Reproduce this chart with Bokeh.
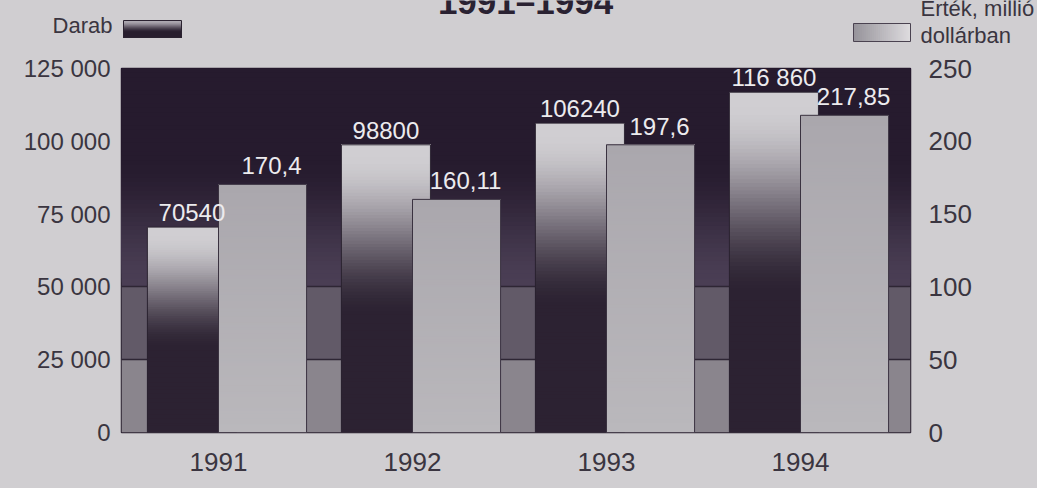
from bokeh.plotting import figure
from bokeh.layouts import column
from bokeh.models import Range1d, LinearAxis, FixedTicker
from bokeh.core.properties import value
from bokeh.embed import file_html
from bokeh.resources import INLINE

# ---------------- data ----------------
years = ["1991", "1992", "1993", "1994"]
darab = [70540, 98800, 106240, 116860]
ertek = [170.4, 160.11, 197.6, 217.85]
darab_labels = ["70540", "98800", "106240", "116 860"]
ertek_labels = ["170,4", "160,11", "197,6", "217,85"]
left_ticks = [0, 25000, 50000, 75000, 100000, 125000]
left_tick_labels = ["0", "25 000", "50 000", "75 000", "100 000", "125 000"]
right_ticks = [0, 50, 100, 150, 200, 250]
title_text = "1991\u20131994"
legend_left = "Darab"
legend_right = ["\u00c9rt\u00e9k, milli\u00f3", "doll\u00e1rban"]

# ---------------- style ----------------
W, H = 1037, 488
TOP_H = 54
MAIN_H = H - TOP_H
FL, FR, FT, FB = 121, 127, 14, 56
X_END = 4.067
DARK_OFF, DARK_W = 0.363, 0.459
LIGHT_OFF, LIGHT_W = 0.727, 0.454
TICK_OFF = 0.5
PAGE_BG = "#d0ced1"
TXT = "#3a3540"
FONT = "Liberation Sans"
N = 90
BASE_SHIFT = 0.4  # alphabetic anchor sits ~0.4em above the drawn baseline


def mix(c1, c2, t):
    t = max(0.0, min(1.0, t))
    return "#%02x%02x%02x" % tuple(int(round(a + (b - a) * t)) for a, b in zip(c1, c2))


def smooth(t):
    t = max(0.0, min(1.0, t))
    return t * t * (3 - 2 * t)


DARK_BOT = (44, 34, 50)
DARK_TOP = (208, 206, 210)


def dark_ramp(f):
    return mix(DARK_BOT, DARK_TOP, smooth((f - 0.40) / (0.97 - 0.40)))


LIGHT_BOT = (186, 184, 188)
LIGHT_TOP = (170, 167, 173)


def light_ramp(f):
    return mix(LIGHT_BOT, LIGHT_TOP, f)


BG_LOW = (74, 62, 84)
BG_HIGH = (38, 27, 46)

# ======================= main chart =======================
p = figure(width=W, height=MAIN_H, output_backend="svg", toolbar_location=None,
           x_range=Range1d(0, X_END), y_range=Range1d(left_ticks[0], left_ticks[-1]),
           min_border_left=FL, min_border_right=FR, min_border_top=FT, min_border_bottom=FB)
p.frame_align = False
p.extra_y_ranges = {"right": Range1d(right_ticks[0], right_ticks[-1])}
p.background_fill_color = PAGE_BG
p.border_fill_color = PAGE_BG
p.outline_line_color = "#2a2230"
p.outline_line_width = 1.5
p.grid.visible = False

# background bands
p.quad(left=[0, 0], right=[X_END, X_END],
       bottom=[left_ticks[0], left_ticks[1]], top=[left_ticks[1], left_ticks[2]],
       fill_color=["#8a858d", "#625a68"], line_color=None)
NB = 50
bg_b, bg_c = [], []
span = left_ticks[-1] - left_ticks[2]
for k in range(NB):
    bg_b.append(left_ticks[2] + span * k / NB)
    bg_c.append(mix(BG_LOW, BG_HIGH, smooth(((k + 0.5) / NB) / 0.6)))
p.quad(left=[0] * NB, right=[X_END] * NB, bottom=bg_b, top=[left_ticks[-1]] * NB,
       fill_color=bg_c, line_color=None)
p.hspan(y=left_ticks[1:3], line_color="#2e2634", line_width=1.5)

# bars (gradient by overlapping stacked slices)
xs_d, bot_d, top_d, col_d = [], [], [], []
xs_l, bot_l, top_l, col_l = [], [], [], []
for i, (v, w) in enumerate(zip(darab, ertek)):
    for k in range(N):
        xs_d.append(i + DARK_OFF); bot_d.append(v * k / N); top_d.append(v)
        col_d.append(dark_ramp((k + 0.5) / N))
        xs_l.append(i + LIGHT_OFF); bot_l.append(w * k / N); top_l.append(w)
        col_l.append(light_ramp((k + 0.5) / N))

xi = list(range(len(years)))
p.vbar(x=xs_d, width=DARK_W, bottom=bot_d, top=top_d, fill_color=col_d, line_color=None)
p.vbar(x=[i + DARK_OFF for i in xi], width=DARK_W, bottom=0, top=darab,
       fill_color=None, line_color="#2a2230", line_width=1)
p.vbar(x=xs_l, width=LIGHT_W, bottom=bot_l, top=top_l, fill_color=col_l, line_color=None,
       y_range_name="right")
p.vbar(x=[i + LIGHT_OFF for i in xi], width=LIGHT_W, bottom=0, top=ertek,
       fill_color=None, line_color="#3a3240", line_width=1, y_range_name="right")

# value labels
VAL_FS = 24
p.text(x=[i + DARK_OFF for i in xi], y=darab, text=darab_labels,
       y_offset=-(5 + BASE_SHIFT * VAL_FS),
       text_align="center", text_baseline="alphabetic", text_color="#ecebee",
       text_font=value(FONT), text_font_size="%dpx" % VAL_FS)
p.text(x=[i + LIGHT_OFF for i in xi], y=ertek, text=ertek_labels,
       y_offset=-(9 + BASE_SHIFT * VAL_FS), x_offset=9,
       text_align="center", text_baseline="alphabetic", text_color="#ecebee",
       text_font=value(FONT), text_font_size="%dpx" % VAL_FS, y_range_name="right")


def style_axis(ax, size, standoff):
    ax.axis_line_color = None
    ax.major_tick_line_color = None
    ax.minor_tick_line_color = None
    ax.major_tick_out = 0
    ax.major_tick_in = 0
    ax.minor_tick_out = 0
    ax.minor_tick_in = 0
    ax.major_label_text_font = FONT
    ax.major_label_text_font_size = size
    ax.major_label_text_color = TXT
    ax.major_label_standoff = standoff


style_axis(p.yaxis[0], "24px", 11)
p.yaxis[0].ticker = FixedTicker(ticks=left_ticks)
p.yaxis[0].major_label_overrides = {t: s for t, s in zip(left_ticks, left_tick_labels)}

style_axis(p.xaxis[0], "26px", 20)
p.xaxis[0].ticker = FixedTicker(ticks=[i + TICK_OFF for i in xi])
p.xaxis[0].major_label_overrides = {i + TICK_OFF: y for i, y in zip(xi, years)}

ry = LinearAxis(y_range_name="right", ticker=FixedTicker(ticks=right_ticks))
style_axis(ry, "26px", 18)
p.add_layout(ry, "right")

# ======================= header strip (title + legend) =======================
t = figure(width=W, height=TOP_H, output_backend="svg", toolbar_location=None,
           x_range=Range1d(0, W), y_range=Range1d(TOP_H, 0),
           x_axis_type=None, y_axis_type=None,
           min_border_left=0, min_border_right=0, min_border_top=0, min_border_bottom=0)
t.frame_align = False
t.background_fill_color = PAGE_BG
t.border_fill_color = PAGE_BG
t.outline_line_color = None
t.grid.visible = False


def head_text(x, baseline, txt, size, align, bold=False, color=TXT):
    t.text(x=[x], y=[baseline - BASE_SHIFT * size], text=[txt], text_align=align,
           text_baseline="alphabetic", text_font=value(FONT),
           text_font_style="bold" if bold else "normal",
           text_font_size="%dpx" % size, text_color=color)


head_text(525, 15, title_text, 35, "center", bold=True, color="#2a2232")
head_text(112, 34, legend_left, 22, "right")
head_text(920, 17, legend_right[0], 22, "left")
head_text(920, 44, legend_right[1], 22, "left")

# legend swatch: Darab (vertical gradient, light top edge to dark bottom)
SW1 = dict(l=123, r=181, t=20, b=37)
n1 = 17
sw_top, sw_col = [], []
for k in range(n1):
    f = (k + 0.5) / n1
    sw_top.append(SW1["t"] + (SW1["b"] - SW1["t"]) * k / n1)
    sw_col.append(mix((176, 172, 180), (40, 30, 46), smooth(f / 0.7)))
t.quad(left=[SW1["l"]] * n1, right=[SW1["r"]] * n1, top=sw_top, bottom=[SW1["b"]] * n1,
       fill_color=sw_col, line_color=None)
t.quad(left=[SW1["l"]], right=[SW1["r"]], top=[SW1["t"]], bottom=[SW1["b"]],
       fill_color=None, line_color="#2a2230", line_width=1)

# legend swatch: value (horizontal gradient, grey to light)
SW2 = dict(l=853, r=910, t=23, b=41)
n2 = 28
sw_left, sw_col2 = [], []
for k in range(n2):
    f = (k + 0.5) / n2
    sw_left.append(SW2["l"] + (SW2["r"] - SW2["l"]) * k / n2)
    sw_col2.append(mix((150, 147, 154), (222, 220, 223), f))
t.quad(left=sw_left, right=[SW2["r"]] * n2, top=[SW2["t"]] * n2, bottom=[SW2["b"]] * n2,
       fill_color=sw_col2, line_color=None)
t.quad(left=[SW2["l"]], right=[SW2["r"]], top=[SW2["t"]], bottom=[SW2["b"]],
       fill_color=None, line_color="#4a4250", line_width=1)

layout = column(t, p, spacing=0)
html = file_html(layout, INLINE)
html = html.replace("<head>", "<head><style>html,body{margin:0;padding:0;overflow:hidden;background:%s;}</style>" % PAGE_BG, 1)
open("out.html", "w").write(html)
